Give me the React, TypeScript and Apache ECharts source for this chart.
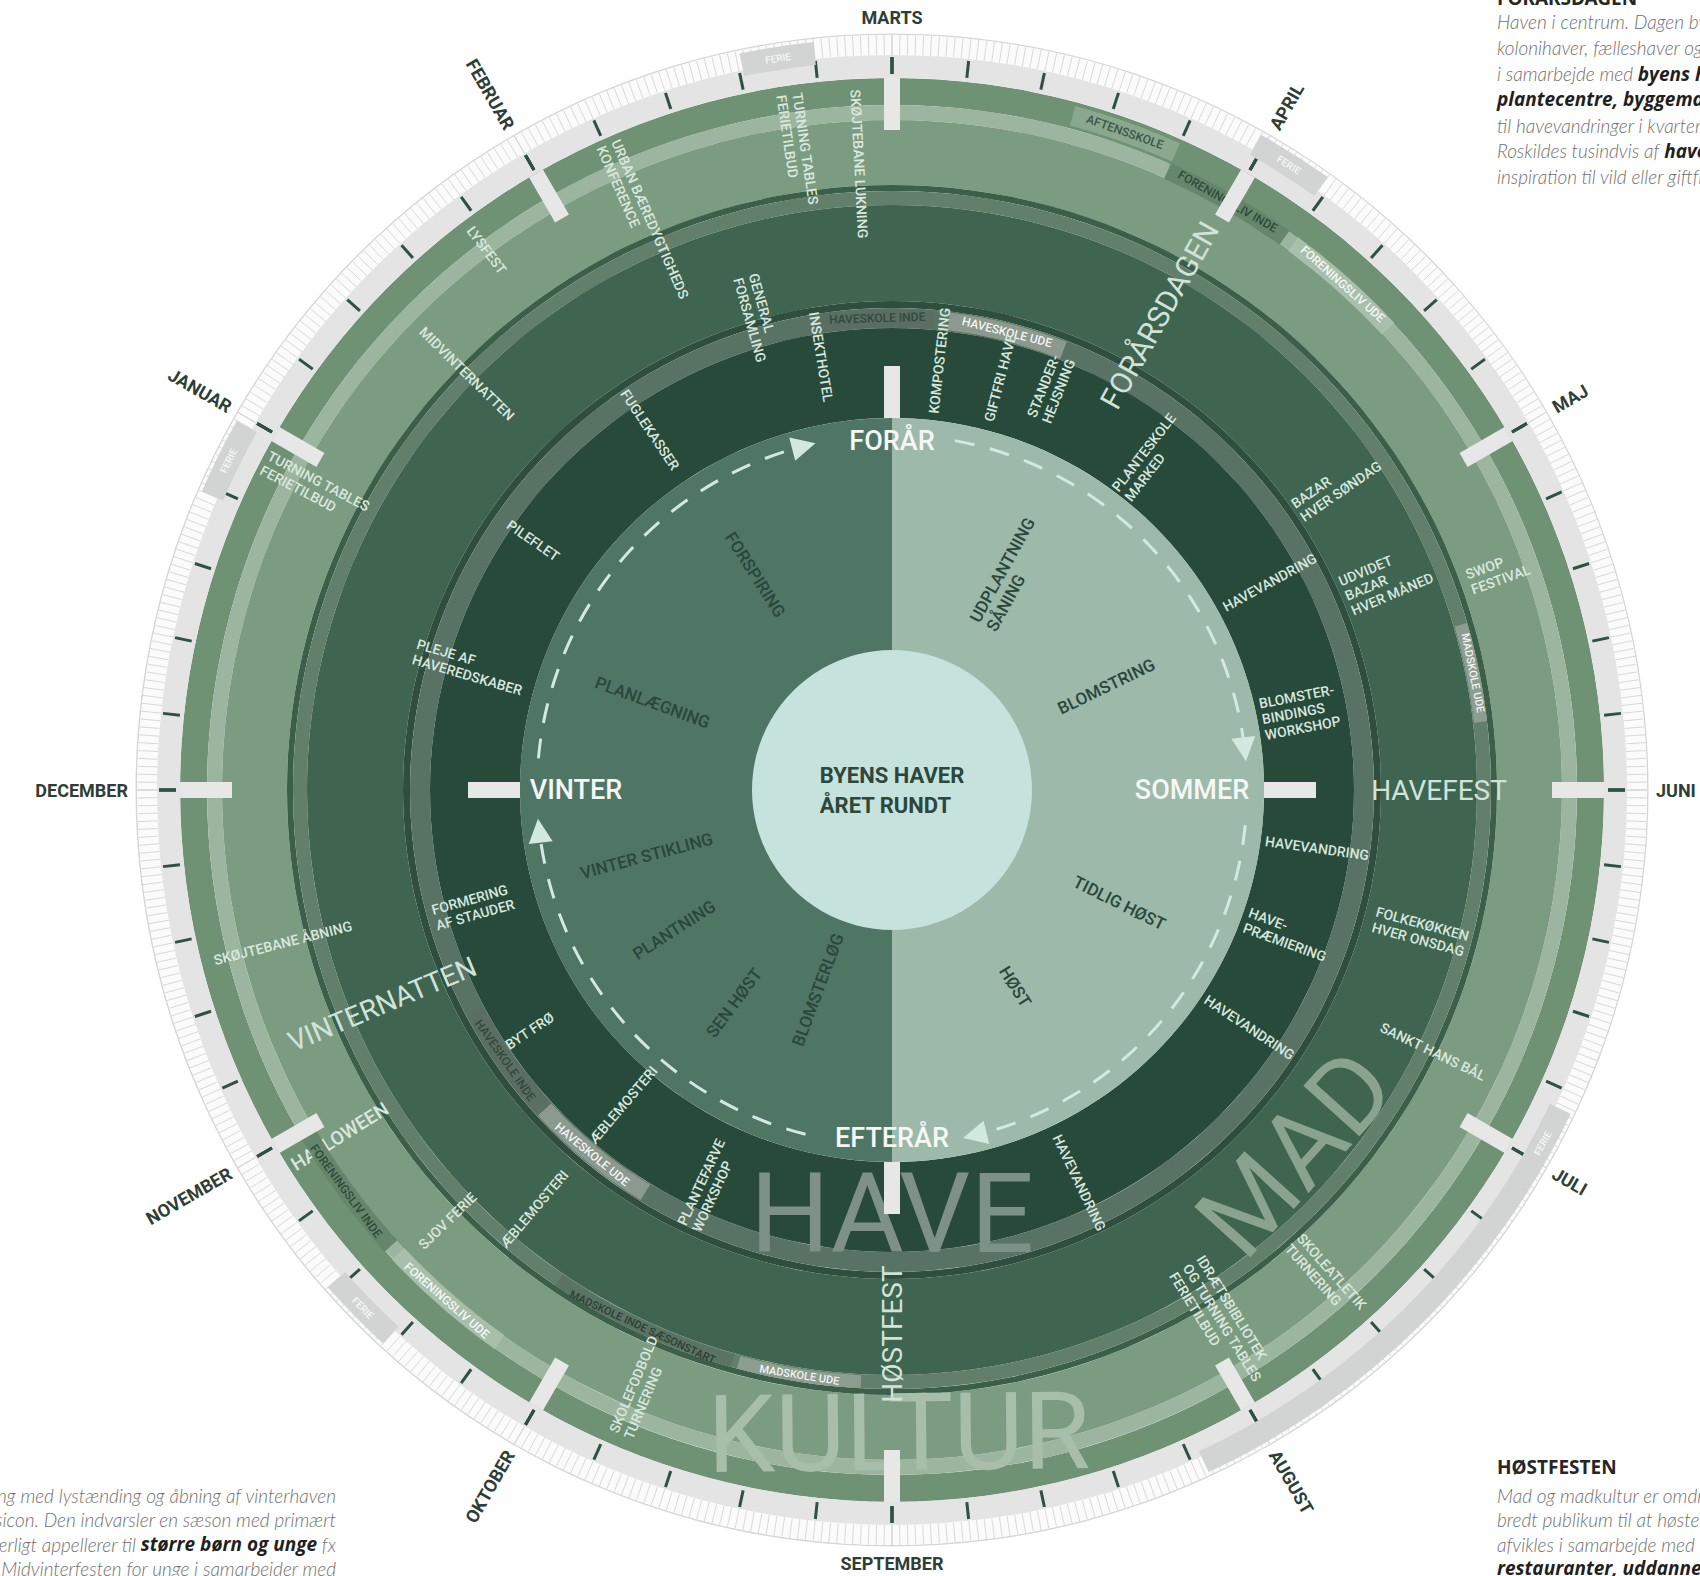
import React, { useEffect, useRef } from "react";
import * as echarts from "echarts";

/* ======================= DATA ======================= */
// Angle axis value = months since 1 January (JANUAR marker = 0)
const MONTHS = ["JANUAR", "FEBRUAR", "MARTS", "APRIL", "MAJ", "JUNI", "JULI", "AUGUST", "SEPTEMBER", "OKTOBER", "NOVEMBER", "DECEMBER"];

// [label, month, radius]
const SEASONS: [string, number, number][] = [
  ["FORÅR", 2, 349],
  ["SOMMER", 5, 300],
  ["EFTERÅR", 8, 348],
  ["VINTER", 11, 316],
];
const SEASON_MARKS = [2, 5, 8, 11];
// dashed season-cycle arcs [from month, to month]
const CYCLE_ARCS: [number, number][] = [
  [2.34, 4.77],
  [5.19, 7.54],
  [8.47, 10.77],
  [11.17, 13.51],
];
// school holidays [from month, to month]
const FERIE_WEEKS: [number, number][] = [
  [1.61, 1.8],
  [2.98, 3.18],
  [5.85, 7.17],
  [9.42, 9.62],
  [11.78, 11.98],
];

// inner disk: garden phases [label, month, radius]
const PHASES: [string, number, number][] = [
  ["FORSPIRING", 0.92, 255],
  ["PLANLÆGNING", 11.67, 255],
  ["VINTER STIKLING", 10.5, 254],
  ["PLANTNING", 9.91, 259],
  ["SEN HØST", 9.22, 265],
  ["BLOMSTERLØG", 8.68, 213],
  ["UDPLANTNING\nSÅNING", 2.96, 246],
  ["BLOMSTRING", 4.14, 238],
  ["TIDLIG HØST", 5.88, 254],
  ["HØST", 6.93, 232],
];

// HAVE ring events [label, month, radius]
const HAVE_EVENTS: [string, number, number][] = [
  ["FUGLEKASSER", 0.87, 434],
  ["PILEFLET", 0.16, 437],
  ["INSEKTHOTEL", 1.69, 439],
  ["KOMPOSTERING", 2.21, 432],
  ["GIFTFRI HAVE", 2.49, 426],
  ["STANDER-\nHEJSNING", 2.72, 432],
  ["PLANTESKOLE\nMARKED", 3.26, 421],
  ["HAVEVANDRING", 4.04, 431],
  ["BLOMSTER-\nBINDINGS\nWORKSHOP", 4.64, 415],
  ["HAVEVANDRING", 5.26, 429],
  ["HAVE-\nPRÆMIERING", 5.67, 421],
  ["HAVEVANDRING", 6.12, 429],
  ["HAVEVANDRING", 7.15, 435],
  ["PLANTEFARVE\nWORKSHOP", 8.83, 436],
  ["ÆBLEMOSTERI", 9.35, 414],
  ["BYT FRØ", 9.88, 435],
  ["FORMERING\nAF STAUDER", 10.48, 435],
  ["PLEJE AF\nHAVEREDSKABER", 11.54, 440],
];

// MAD ring events
const MAD_EVENTS: [string, number, number][] = [
  ["GENERAL\nFORSAMLING", 1.47, 491],
  ["BAZAR\nHVER SØNDAG", 3.85, 539],
  ["UDVIDET\nBAZAR\nHVER MÅNED", 4.23, 537],
  ["FOLKEKØKKEN\nHVER ONSDAG", 5.5, 547],
  ["ÆBLEMOSTERI", 9.35, 551],
];

// KULTUR ring events
const KULTUR_EVENTS: [string, number, number][] = [
  ["SKØJTEBANE LUKNING", 1.9, 627],
  ["TURNING TABLES\nFERIETILBUD", 1.72, 647],
  ["URBAN BÆREDYGTIGHEDS\nKONFERENCE", 1.21, 620],
  ["LYSFEST", 0.77, 675],
  ["MIDVINTERNATTEN", 0.48, 595],
  ["TURNING TABLES\nFERIETILBUD", 11.92, 651],
  ["SKØJTEBANE ÅBNING", 10.53, 628],
  ["SJOV FERIE", 9.53, 619],
  ["SKOLEFODBOLD\nTURNERING", 8.76, 648],
  ["IDRÆTSBIBLIOTEK\nOG TURNING TABLES\nFERIETILBUD", 6.94, 627],
  ["SKOLEATLETIK\nTURNERING", 6.61, 652],
  ["SANKT HANS BÅL", 5.86, 601],
  ["SWOP\nFESTIVAL", 4.34, 644],
];
const KULTUR_HIGHLIGHTS: [string, number, number][] = [["HALLOWEEN", 9.93, 652]];

// big festival names [label, month, radius]
const FESTIVALS: [string, number, number][] = [
  ["FORÅRSDAGEN", 2.98, 545],
  ["HAVEFEST", 5, 547],
  ["HØSTFEST", 8, 544],
  ["VINTERNATTEN", 10.24, 553],
];
// ring themes [label, month, radius]
const THEMES: [string, number, number][] = [
  ["HAVE", 8, 423],
  ["MAD", 6.4, 543],
  ["KULTUR", 7.98, 643],
];

// track events [label, from month, to month]
const HAVESKOLE: [string, number, number][] = [
  ["HAVESKOLE INDE", 1.71, 2.17],
  ["HAVESKOLE UDE", 2.23, 2.71],
  ["HAVESKOLE UDE", 9.05, 9.58],
  ["HAVESKOLE INDE", 9.6, 10.07],
];
const MADSKOLE: [string, number, number][] = [
  ["MADSKOLE UDE", 4.46, 4.78],
  ["MADSKOLE UDE", 8.1, 8.5],
  ["MADSKOLE INDE SÆSONSTART", 8.52, 9.14],
];
const FORENINGSLIV: [string, number, number][] = [
  ["FORENINGSLIV INDE", 2.8, 3.18],
  ["FORENINGSLIV UDE", 3.21, 3.57],
  ["FORENINGSLIV UDE", 9.18, 9.56],
  ["FORENINGSLIV INDE", 9.59, 9.99],
];
const AFTENSSKOLE: [string, number, number][] = [["AFTENSSKOLE", 2.5, 2.8]];

const CENTER_TITLE: [string, number, number][] = [["BYENS HAVER\nÅRET RUNDT", 0, 0]];

// side texts: lines of [text, bold]
const TOP_RIGHT_TITLE = "FORÅRSDAGEN";
const TOP_RIGHT_LINES: [string, boolean][][] = [
  [["Haven i centrum. Dagen byder på åbne haver,", false]],
  [["kolonihaver, fælleshaver og skolehaver", false]],
  [["i samarbejde med ", false], ["byens haveforeninger,", true]],
  [["plantecentre, byggemarkeder", true], [" og", false]],
  [["til havevandringer i kvartererne, hvor", false]],
  [["Roskildes tusindvis af ", false], ["haveejere", true], [" giver", false]],
  [["inspiration til vild eller giftfri have.", false]],
];
const BOTTOM_RIGHT_TITLE = "HØSTFESTEN";
const BOTTOM_RIGHT_LINES: [string, boolean][][] = [
  [["Mad og madkultur er omdrejningspunktet, når et", false]],
  [["bredt publikum til at høste, smage og lave mad", false]],
  [["afvikles i samarbejde med lokale producenter,", false]],
  [["restauranter, uddannelsesinstitutioner", true]],
];
const BOTTOM_LEFT_LINES: [string, boolean][][] = [
  [["Vinternatten skydes i gang med lystænding og åbning af vinterhaven", false]],
  [["på Musicon. Den indvarsler en sæson med primært", false]],
  [["indendørs aktiviteter, som særligt appellerer til ", false], ["større børn og unge", true], [" fx", false]],
  [["Midvinterfesten for unge i samarbejder med", false]],
];

/* ======================= LAYOUT / STYLE ======================= */
const CENTER: [number, number] = [892, 790];
const POLAR_R = 900;
const FONT = 'Roboto, "Noto Sans", sans-serif';

// concentric bands [r0, r1, m0, m1, color]
const BANDS: [number, number, number, number, string][] = [
  [755, 756.5, 0, 12, "#d6d6d6"],
  [685, 712, 0, 12, "#6f9174"],
  [670, 685, 0, 12, "#9bb59e"],
  [605, 670, 0, 12, "#7c9c81"],
  [599, 605, 0, 12, "#3c5f4a"],
  [585, 599, 0, 12, "#617f6b"],
  [489, 585, 0, 12, "#3f6450"],
  [482, 489, 0, 12, "#2f4e3e"],
  [462, 482, 0, 12, "#587363"],
  [372, 462, 0, 12, "#284a3b"],
  [0, 372, 2, 8, "#9cb9aa"],
  [0, 372, 8, 14, "#4f7565"],
  [0, 140, 0, 12, "#c6e2dd"],
];

let _ctx: any = null;
function textWidth(text: string, font: string): number {
  if (!_ctx) _ctx = document.createElement("canvas").getContext("2d");
  if (!_ctx) return text.length * 8;
  _ctx.font = font;
  return Math.max(...text.split("\n").map((l) => _ctx.measureText(l).width));
}
function centerOf(api: any) {
  return api.coord([0, 0]);
}
function screenAng(api: any, c: number[], m: number) {
  const p = api.coord([100, m]);
  return Math.atan2(p[1] - c[1], p[0] - c[0]);
}
function pxR(api: any, c: number[], r: number) {
  if (r === 0) return 0;
  const p = api.coord([r, 0]);
  return Math.hypot(p[0] - c[0], p[1] - c[1]);
}
function sectorShape(api: any, c: number[], r0: number, r1: number, m0: number, m1: number) {
  let sa: number, ea: number;
  if (m1 - m0 >= 12) {
    sa = 0;
    ea = Math.PI * 2;
  } else {
    sa = screenAng(api, c, m0);
    ea = screenAng(api, c, m1);
    while (ea <= sa) ea += Math.PI * 2;
  }
  return { cx: c[0], cy: c[1], r0: pxR(api, c, r0), r: pxR(api, c, r1), startAngle: sa, endAngle: ea, clockwise: true };
}
function orient(p: number[], c: number[], mode: string) {
  const th = Math.atan2(-(p[1] - c[1]), p[0] - c[0]);
  if (mode === "radial") return Math.cos(th) > 0.01 ? th : th - Math.PI;
  if (mode === "tangential") return Math.sin(th) > 0.001 ? th - Math.PI / 2 : th + Math.PI / 2;
  return 0;
}
function textEl(api: any, r: number, m: number, text: string, font: string, fill: string, mode: string, lineHeight?: number) {
  const c = centerOf(api);
  const p = api.coord([r, m]);
  const rot = r === 0 ? 0 : orient(p, c, mode);
  const w = textWidth(text, font);
  return {
    type: "text",
    x: p[0],
    y: p[1],
    rotation: rot,
    style: {
      text,
      x: -w / 2,
      y: 0,
      font,
      fill,
      textAlign: "left",
      align: "left",
      textVerticalAlign: "middle",
      verticalAlign: "middle",
      lineHeight,
    },
  };
}

function bandSeries(rows: [number, number, number, number, string][], z: number) {
  return {
    type: "custom",
    coordinateSystem: "polar",
    silent: true,
    z,
    encode: { radius: 0, angle: 1 },
    data: rows.map(([r0, r1, m0, m1, color]) => ({ value: [r0, m0, r1, m1], itemStyle: { color } })),
    renderItem: (params: any, api: any) => {
      const c = centerOf(api);
      return {
        type: "sector",
        shape: sectorShape(api, c, api.value(0), api.value(2), api.value(1), api.value(3)),
        style: { fill: api.visual("color") },
      };
    },
  };
}

function labelSeries(rows: [string, number, number][], font: string, fill: string, mode: string, lineHeight: number, z: number) {
  return {
    type: "custom",
    coordinateSystem: "polar",
    silent: true,
    z,
    encode: { radius: 0, angle: 1 },
    data: rows.map((row, i) => [row[2], row[1], i]),
    renderItem: (params: any, api: any) => {
      const row = rows[api.value(2)];
      return textEl(api, row[2], row[1], row[0], font, fill, mode, lineHeight);
    },
  };
}

function trackSeries(
  rows: [string, number, number][],
  r0: number,
  r1: number,
  fontSize: number,
  styleFor: (t: string) => { box: string; text: string },
  z: number
) {
  const font = `500 ${fontSize}px ${FONT}`;
  return {
    type: "custom",
    coordinateSystem: "polar",
    silent: true,
    z,
    encode: { radius: 0, angle: 1 },
    data: rows.map((row, i) => [r0, row[1], r1, row[2], i]),
    renderItem: (params: any, api: any) => {
      const row = rows[api.value(4)];
      const st = styleFor(row[0]);
      const c = centerOf(api);
      return {
        type: "group",
        children: [
          { type: "sector", shape: sectorShape(api, c, r0, r1, row[1], row[2]), style: { fill: st.box } },
          textEl(api, (r0 + r1) / 2, (row[1] + row[2]) / 2, row[0], font, st.text, "tangential"),
        ],
      };
    },
  };
}

function barSeries(marks: number[], r0: number, r1: number, width: number, color: string, z: number) {
  return {
    type: "custom",
    coordinateSystem: "polar",
    silent: true,
    z,
    encode: { radius: 0, angle: 1 },
    data: marks.map((m) => [r1, m]),
    renderItem: (params: any, api: any) => {
      const m = api.value(1);
      const pi = api.coord([r0, m]);
      const po = api.coord([r1, m]);
      const dx = po[0] - pi[0];
      const dy = po[1] - pi[1];
      const L = Math.hypot(dx, dy);
      const nx = (-dy / L) * (width / 2);
      const ny = (dx / L) * (width / 2);
      return {
        type: "polygon",
        shape: {
          points: [
            [pi[0] + nx, pi[1] + ny],
            [po[0] + nx, po[1] + ny],
            [po[0] - nx, po[1] - ny],
            [pi[0] - nx, pi[1] - ny],
          ],
        },
        style: { fill: color },
      };
    },
  };
}

function cycleSeries(arcs: [number, number][], r: number, color: string, z: number) {
  return {
    type: "custom",
    coordinateSystem: "polar",
    silent: true,
    z,
    encode: { radius: 0, angle: 1 },
    data: arcs.map(([a, b]) => [r, a, b]),
    renderItem: (params: any, api: any) => {
      const m0 = api.value(1);
      const m1 = api.value(2);
      const c = centerOf(api);
      const rp = pxR(api, c, r);
      let sa = screenAng(api, c, m0);
      let ea = screenAng(api, c, m1);
      while (ea <= sa) ea += Math.PI * 2;
      const P = api.coord([r, m1]);
      const Q = api.coord([r, m1 + 0.02]);
      const L = Math.hypot(Q[0] - P[0], Q[1] - P[1]);
      const tx = (Q[0] - P[0]) / L;
      const ty = (Q[1] - P[1]) / L;
      const nx = -ty;
      const ny = tx;
      return {
        type: "group",
        children: [
          {
            type: "arc",
            shape: { cx: c[0], cy: c[1], r: rp, startAngle: sa, endAngle: ea - 0.02, clockwise: true },
            style: { stroke: color, lineWidth: 3, lineDash: [20, 16], fill: "none" },
          },
          {
            type: "polygon",
            shape: {
              points: [
                [P[0] + tx * 14, P[1] + ty * 14],
                [P[0] - tx * 10 + nx * 12, P[1] - ty * 10 + ny * 12],
                [P[0] - tx * 10 - nx * 12, P[1] - ty * 10 - ny * 12],
              ],
            },
            style: { fill: color },
          },
        ],
      };
    },
  };
}

function ferieSeries(weeks: [number, number][], z: number) {
  const font = `500 10px ${FONT}`;
  return {
    type: "custom",
    coordinateSystem: "polar",
    silent: true,
    z,
    encode: { radius: 0, angle: 1 },
    data: weeks.map(([a, b]) => [729, a, 752, b]),
    renderItem: (params: any, api: any) => {
      const m0 = api.value(1);
      const m1 = api.value(3);
      const c = centerOf(api);
      const mLab = m0 + Math.min(0.1, (m1 - m0) / 2);
      return {
        type: "group",
        children: [
          { type: "sector", shape: sectorShape(api, c, 729, 752, m0, m1), style: { fill: "#d1d4d2" } },
          textEl(api, 740.5, mLab, "FERIE", font, "#f6f6f6", "tangential"),
        ],
      };
    },
  };
}

function monthSeries(z: number) {
  const font = `700 18px ${FONT}`;
  return {
    type: "custom",
    coordinateSystem: "polar",
    silent: true,
    z,
    encode: { radius: 0, angle: 1 },
    data: MONTHS.map((_, i) => [764, i, i]),
    renderItem: (params: any, api: any) => {
      const m = api.value(1);
      const text = MONTHS[api.value(2)];
      const c = centerOf(api);
      const p = api.coord([764, m]);
      const th = Math.atan2(-(p[1] - c[1]), p[0] - c[0]);
      if (Math.abs(Math.cos(th)) < 0.02) {
        const q = api.coord([773, m]);
        return {
          type: "text",
          x: q[0],
          y: q[1],
          style: { text, font, fill: "#2e3e37", textAlign: "center", align: "center", textVerticalAlign: "middle", verticalAlign: "middle" },
        };
      }
      const right = Math.cos(th) > 0;
      return {
        type: "text",
        x: p[0],
        y: p[1],
        rotation: right ? th : th - Math.PI,
        style: {
          text,
          font,
          fill: "#2e3e37",
          textAlign: right ? "left" : "right",
          align: right ? "left" : "right",
          textVerticalAlign: "middle",
          verticalAlign: "middle",
        },
      };
    },
  };
}

function richBlock(lines: [string, boolean][][]) {
  return lines.map((segs) => segs.map(([t, b]) => `{${b ? "b" : "n"}|${t}}`).join("")).join("\n");
}
function richStyles(lh: number) {
  return {
    n: { font: 'italic 300 19px Lato, "Open Sans", sans-serif', fill: "#6f6f6f", lineHeight: lh },
    b: { font: 'italic 700 19px "Open Sans", "Noto Sans", sans-serif', fill: "#1f1f1f", lineHeight: lh },
  };
}

const HEAD_FONT = 'bold 19px "Noto Sans", sans-serif';
const BODY_FONT = 'italic 300 19px Lato, sans-serif';

function buildOption() {
  const inde = (box: string, text: string) => ({ box, text });
  return {
    animation: false,
    backgroundColor: "#ffffff",
    polar: { center: CENTER, radius: POLAR_R },
    angleAxis: { type: "value", min: 0, max: 12, startAngle: 150, clockwise: true, show: false },
    radiusAxis: { type: "value", min: 0, max: POLAR_R, show: false },
    graphic: [
      {
        type: "text",
        x: 1497,
        y: 7,
        silent: true,
        style: { text: TOP_RIGHT_TITLE, font: HEAD_FONT, fill: "#262626", textVerticalAlign: "bottom", verticalAlign: "bottom" },
      },
      {
        type: "text",
        x: 1497,
        y: 9,
        silent: true,
        style: {
          text: richBlock(TOP_RIGHT_LINES),
          rich: richStyles(25.8),
          font: BODY_FONT,
          lineHeight: 25.8,
          textVerticalAlign: "top",
          verticalAlign: "top",
        },
      },
      {
        type: "text",
        x: 1497,
        y: 1467,
        silent: true,
        style: { text: BOTTOM_RIGHT_TITLE, font: HEAD_FONT, fill: "#262626", textVerticalAlign: "middle", verticalAlign: "middle" },
      },
      {
        type: "text",
        x: 1497,
        y: 1483,
        silent: true,
        style: {
          text: richBlock(BOTTOM_RIGHT_LINES),
          rich: richStyles(24.4),
          font: BODY_FONT,
          lineHeight: 24.4,
          textVerticalAlign: "top",
          verticalAlign: "top",
        },
      },
      {
        type: "text",
        x: 336,
        y: 1483,
        silent: true,
        style: {
          text: richBlock(BOTTOM_LEFT_LINES),
          rich: richStyles(24.4),
          font: BODY_FONT,
          lineHeight: 24.4,
          textAlign: "right",
          align: "right",
          textVerticalAlign: "top",
          verticalAlign: "top",
        },
      },
    ],
    series: [
      bandSeries(BANDS, 1),
      {
        type: "gauge",
        center: CENTER,
        radius: 755,
        startAngle: 150,
        endAngle: -210,
        min: 0,
        max: 12,
        splitNumber: 12,
        z: 2,
        silent: true,
        axisLine: { show: true, lineStyle: { width: 20, color: [[1, "#fbfbfb"]] } },
        axisTick: { show: true, splitNumber: 50, length: 20, distance: -20, lineStyle: { color: "#d9d9d9", width: 1 } },
        splitLine: { show: true, length: 20, distance: -20, lineStyle: { color: "#d9d9d9", width: 1 } },
        axisLabel: { show: false },
        pointer: { show: false },
        anchor: { show: false },
        progress: { show: false },
        title: { show: false },
        detail: { show: false },
        data: [{ value: 0 }],
      },
      {
        type: "gauge",
        center: CENTER,
        radius: 735,
        startAngle: 150,
        endAngle: -210,
        min: 0,
        max: 12,
        splitNumber: 12,
        z: 2,
        silent: true,
        axisLine: { show: true, lineStyle: { width: 23, color: [[1, "#e4e4e4"]] } },
        axisTick: { show: true, splitNumber: 5, length: 17, distance: -21, lineStyle: { color: "#2e5241", width: 3 } },
        splitLine: { show: true, length: 17, distance: -21, lineStyle: { color: "#2e5241", width: 3 } },
        axisLabel: { show: false },
        pointer: { show: false },
        anchor: { show: false },
        progress: { show: false },
        title: { show: false },
        detail: { show: false },
        data: [{ value: 0 }],
      },
      labelSeries(KULTUR_HIGHLIGHTS, `500 19px ${FONT}`, "#d9e8df", "radial", 20, 2),
      ferieSeries(FERIE_WEEKS, 3),
      trackSeries(HAVESKOLE, 463, 481, 12, (t) => (t.includes("INDE") ? inde("#5a6e61", "#34493c") : inde("#8b998f", "#f4f4f4")), 3),
      trackSeries(MADSKOLE, 586, 599, 11, (t) => (t.includes("INDE") ? inde("#5b7363", "#2b3f33") : inde("#8d9e91", "#f2f4f2")), 3),
      trackSeries(FORENINGSLIV, 669, 686, 12, (t) => (t.includes("INDE") ? inde("#66866c", "#2f4b38") : inde("#a8bfab", "#f6f8f6")), 3),
      trackSeries(AFTENSSKOLE, 688, 708, 12, () => inde("#8aa88e", "#3a5944"), 3),
      labelSeries([THEMES[0]], `400 112px ${FONT}`, "#7e9187", "tangential", 112, 4),
      labelSeries([THEMES[1]], `400 106px ${FONT}`, "#8aa38f", "tangential", 106, 4),
      labelSeries([THEMES[2]], `400 108px ${FONT}`, "#a7bea9", "tangential", 108, 4),
      barSeries(MONTHS.map((_, i) => i), 660, 712, 16, "#e7e7e7", 5),
      barSeries(SEASON_MARKS, 372, 424, 16, "#e7e7e7", 5),
      cycleSeries(CYCLE_ARCS, 355, "#d2e9e2", 5),
      labelSeries(SEASONS, `500 27px ${FONT}`, "#f5f7f5", "none", 30, 6),
      labelSeries(PHASES, `500 17px ${FONT}`, "#29473a", "radial", 19, 6),
      labelSeries(HAVE_EVENTS, `500 14px ${FONT}`, "#d6e7de", "radial", 16, 6),
      labelSeries(MAD_EVENTS, `500 14px ${FONT}`, "#d6e7de", "radial", 16, 6),
      labelSeries(KULTUR_EVENTS, `500 14px ${FONT}`, "#d9e8df", "radial", 16, 6),
      labelSeries(FESTIVALS.slice(0, 1), `400 30px ${FONT}`, "#d0e3d9", "radial", 32, 6),
      labelSeries(FESTIVALS.slice(1), `400 28px ${FONT}`, "#d0e3d9", "radial", 30, 6),
      labelSeries(CENTER_TITLE, `700 22px ${FONT}`, "#2c473b", "none", 30, 6),
      monthSeries(6),
    ],
  };
}

export default function App() {
  const ref = useRef<HTMLDivElement>(null);
  useEffect(() => {
    if (!ref.current) return;
    const chart = echarts.init(ref.current, undefined, { renderer: "svg" });
    chart.setOption(buildOption() as any);
    return () => chart.dispose();
  }, []);
  return (
    <div
      ref={ref}
      style={{ position: "absolute", left: 0, top: 0, width: 1700, height: 1576, background: "#ffffff" }}
    />
  );
}
